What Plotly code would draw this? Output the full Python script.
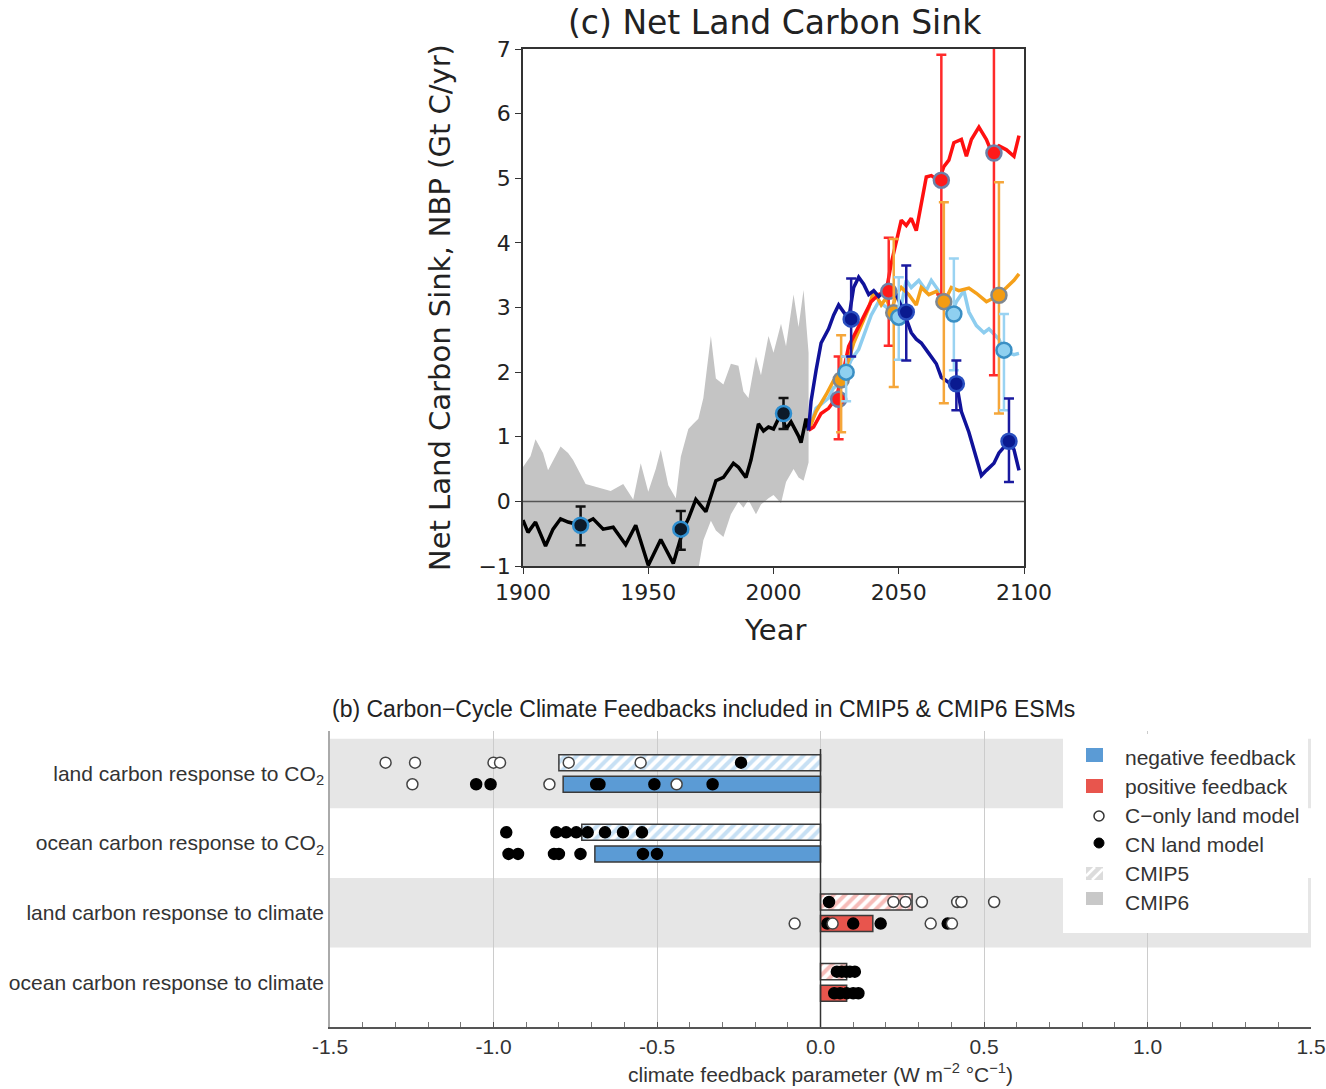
import plotly.graph_objects as go

W, H = 1326, 1089

# ---------------- (c) Net Land Carbon Sink data ----------------
hist_years = [1900, 1902, 1905, 1909, 1912, 1915, 1918, 1923, 1928, 1932, 1936, 1941, 1945, 1950,
              1952, 1955, 1960, 1964, 1966, 1969, 1973, 1977, 1980, 1984, 1986, 1989, 1991, 1994,
              1996, 1998, 2000, 2003, 2005, 2007, 2010, 2011, 2013, 2014]
hist_nbp = [-0.29, -0.48, -0.32, -0.69, -0.43, -0.27, -0.32, -0.37, -0.27, -0.43, -0.40, -0.67, -0.37,
            -0.99, -0.83, -0.59, -0.96, -0.43, -0.27, 0.03, -0.16, 0.32, 0.37, 0.59, 0.53, 0.37, 0.64,
            1.20, 1.09, 1.15, 1.12, 1.36, 1.12, 1.23, 1.01, 0.91, 1.28, 1.10]

band_years = [1900, 1903, 1905, 1908, 1910, 1913, 1915, 1918, 1920, 1925, 1930, 1935, 1940, 1944,
              1947, 1950, 1953, 1955, 1958, 1961, 1963, 1966, 1968, 1970, 1972, 1975, 1977, 1980,
              1983, 1986, 1988, 1990, 1993, 1995, 1998, 2000, 2003, 2005, 2008, 2010, 2012, 2014]
band_upper = [0.53, 0.70, 0.96, 0.75, 0.48, 0.70, 0.85, 0.75, 0.64, 0.27, 0.21, 0.16, 0.27, 0.03,
              0.59, 0.15, 0.50, 0.80, 0.25, 0.05, 0.69, 1.12, 1.20, 1.28, 1.60, 2.56, 1.90, 1.81,
              2.13, 2.10, 1.70, 1.60, 2.24, 1.95, 2.56, 2.30, 2.75, 2.40, 3.20, 2.70, 3.27, 2.30]
band_lower = [-1.5, -1.5, -1.5, -1.5, -1.5, -1.5, -1.5, -1.5, -1.5, -1.5, -1.5, -1.5, -1.5, -1.5,
              -1.5, -1.5, -1.5, -1.5, -1.5, -1.5, -1.5, -1.5, -1.2, -1.05, -0.6, -0.3, -0.45, -0.55,
              -0.2, 0.0, -0.1, 0.02, -0.2, -0.05, 0.05, 0.1, -0.03, 0.3, 0.5, 0.37, 0.32, 0.6]

hist_mk_years = [1923, 1963, 2004]
hist_mk_vals = [-0.37, -0.43, 1.36]
hist_mk_hi = [-0.08, -0.15, 1.60]
hist_mk_lo = [-0.68, -0.75, 1.12]

navy_years = [2014, 2015, 2017, 2019, 2022, 2024, 2026, 2028, 2030, 2032, 2034, 2036, 2038, 2040,
              2042, 2046, 2049, 2052, 2055, 2057, 2059, 2062, 2065, 2067, 2071, 2073, 2075, 2078,
              2080, 2083, 2085, 2088, 2090, 2094, 2096, 2098]
navy_vals = [1.10, 1.55, 2.03, 2.45, 2.67, 2.88, 3.04, 2.93, 2.82, 3.31, 3.47, 3.36, 3.20, 3.26,
             3.17, 3.31, 3.20, 2.93, 2.61, 2.51, 2.45, 2.29, 2.13, 1.92, 1.81, 1.84, 1.39, 1.07,
             0.80, 0.40, 0.48, 0.59, 0.75, 0.93, 0.80, 0.48]

red_years = [2014, 2016, 2019, 2022, 2025, 2028, 2030, 2033, 2036, 2039, 2042, 2045, 2047, 2049,
             2051, 2053, 2055, 2057, 2059, 2061, 2063, 2066, 2068, 2070, 2072, 2075, 2077, 2079,
             2082, 2085, 2087, 2090, 2093, 2096, 2098]
red_vals = [1.10, 1.15, 1.36, 1.44, 1.60, 2.03, 2.40, 2.64, 2.88, 3.09, 3.20, 3.25, 3.68, 4.00,
            4.35, 4.27, 4.38, 4.19, 4.59, 5.02, 5.04, 4.96, 5.18, 5.28, 5.55, 5.60, 5.34, 5.60,
            5.79, 5.60, 5.41, 5.50, 5.44, 5.34, 5.66]

orange_years = [2014, 2017, 2021, 2024, 2027, 2030, 2032, 2035, 2038, 2040, 2043, 2045, 2047, 2049,
                2051, 2054, 2057, 2059, 2062, 2065, 2068, 2071, 2074, 2078, 2081, 2085, 2089, 2093,
                2096, 2098]
orange_vals = [1.10, 1.39, 1.65, 1.87, 1.90, 2.19, 2.45, 2.72, 2.99, 3.26, 3.04, 3.15, 2.93, 3.20,
               3.31, 3.20, 3.04, 3.31, 3.20, 3.25, 3.07, 3.31, 3.26, 3.30, 3.22, 3.09, 3.17, 3.31,
               3.42, 3.52]

lblue_years = [2014, 2017, 2022, 2024, 2027, 2029, 2031, 2034, 2036, 2039, 2042, 2045, 2047, 2050,
               2053, 2055, 2058, 2061, 2063, 2067, 2071, 2073, 2076, 2078, 2081, 2084, 2086, 2090,
               2092, 2096, 2098]
lblue_vals = [1.10, 1.44, 1.60, 1.76, 1.81, 2.00, 2.19, 2.35, 2.56, 2.88, 3.09, 3.00, 2.95, 2.83,
              3.42, 3.31, 3.42, 3.26, 3.42, 3.20, 2.88, 3.09, 3.26, 2.93, 2.72, 2.61, 2.67, 2.51,
              2.32, 2.27, 2.29]

navy_mk_years = [2031, 2053, 2073, 2094]
navy_mk_vals = [2.82, 2.93, 1.82, 0.93]
navy_mk_hi = [3.45, 3.65, 2.18, 1.59]
navy_mk_lo = [2.24, 2.18, 1.41, 0.30]

red_mk_years = [2026, 2046, 2067, 2088]
red_mk_vals = [1.58, 3.25, 4.97, 5.39]
red_mk_hi = [2.24, 4.08, 6.91, 7.5]
red_mk_lo = [0.96, 2.41, 3.20, 1.95]

orange_mk_years = [2027, 2048, 2068, 2090]
orange_mk_vals = [1.88, 2.92, 3.09, 3.19]
orange_mk_hi = [2.57, 4.06, 4.63, 4.94]
orange_mk_lo = [1.07, 1.77, 1.52, 1.36]

lblue_mk_years = [2029, 2050, 2072, 2092]
lblue_mk_vals = [2.00, 2.85, 2.90, 2.34]
lblue_mk_hi = [2.24, 3.47, 3.76, 2.90]
lblue_mk_lo = [1.55, 2.19, 2.03, 1.41]

# ---------------- (b) feedback data ----------------
categories = ["land carbon response to CO<sub>2</sub>",
              "ocean carbon response to CO<sub>2</sub>",
              "land carbon response to climate",
              "ocean carbon response to climate"]
cmip5_mean = [-0.80, -0.73, 0.28, 0.08]
cmip6_mean = [-0.787, -0.69, 0.16, 0.08]
cmip5_conly = [[-1.33, -1.24, -1.00, -0.98, -0.77, -0.55], [], [0.223, 0.26, 0.31, 0.418, 0.431, 0.531], []]
cmip5_cn = [[-0.243], [-0.961, -0.808, -0.778, -0.747, -0.712, -0.659, -0.604, -0.546], [0.026],
            [0.05, 0.065, 0.078, 0.09, 0.105]]
cmip6_conly = [[-1.248, -0.829, -0.44], [], [-0.079, 0.037, 0.337, 0.402], []]
cmip6_cn = [[-1.053, -1.009, -0.686, -0.676, -0.508, -0.33],
            [-0.954, -0.925, -0.815, -0.80, -0.734, -0.543, -0.50],
            [0.021, 0.10, 0.184, 0.389], [0.042, 0.06, 0.08, 0.10, 0.116]]
xticks_b = [-1.5, -1.0, -0.5, 0.0, 0.5, 1.0, 1.5]
xtick_text_b = ["-1.5", "-1.0", "-0.5", "0.0", "0.5", "1.0", "1.5"]
legend_labels = ["negative feedback", "positive feedback", "C−only land model",
                 "CN land model", "CMIP5", "CMIP6"]

NEG, POS = "#5b9bd5", "#e8554d"
NEG_H, POS_H = "#8fc2ea", "#ee7a73"

def px(x):
    return x / W

def py(y):
    return 1 - y / H

fig = go.Figure()

# ---- top panel ----
fig.add_trace(go.Scatter(x=band_years, y=band_lower, mode="lines", line=dict(width=0, color="#c4c4c4"),
                         xaxis="x", yaxis="y", hoverinfo="skip"))
fig.add_trace(go.Scatter(x=band_years, y=band_upper, mode="lines", line=dict(width=0, color="#c4c4c4"),
                         fill="tonexty", fillcolor="#c4c4c4", xaxis="x", yaxis="y", hoverinfo="skip"))
fig.add_trace(go.Scatter(x=[1900, 2100], y=[0, 0], mode="lines", line=dict(width=1.5, color="#555"),
                         xaxis="x", yaxis="y"))
fig.add_trace(go.Scatter(x=hist_years, y=hist_nbp, mode="lines", line=dict(width=3.5, color="black"),
                         xaxis="x", yaxis="y"))

series = [
    (lblue_years, lblue_vals, "#8dcdef"),
    (orange_years, orange_vals, "#f5a01a"),
    (red_years, red_vals, "#ff1010"),
    (navy_years, navy_vals, "#10129a"),
]
for yrs, vals, col in series:
    fig.add_trace(go.Scatter(x=yrs, y=vals, mode="lines", line=dict(width=3.5, color=col),
                             xaxis="x", yaxis="y"))

markers = [
    (hist_mk_years, hist_mk_vals, hist_mk_hi, hist_mk_lo, "#0d1b2a", "#2f8fd0", "#111"),
    (red_mk_years, red_mk_vals, red_mk_hi, red_mk_lo, "#ff1a1a", "#6c80a8", "#ff2a2a"),
    (orange_mk_years, orange_mk_vals, orange_mk_hi, orange_mk_lo, "#f39c12", "#7f8890", "#f5a63a"),
    (lblue_mk_years, lblue_mk_vals, lblue_mk_hi, lblue_mk_lo, "#8fd0f0", "#3a8fc4", "#9ad3f2"),
    (navy_mk_years, navy_mk_vals, navy_mk_hi, navy_mk_lo, "#0a1a90", "#2a4fc0", "#1a1aa0"),
]
for yrs, vals, hi, lo, fill, edge, ecol in markers:
    fig.add_trace(go.Scatter(
        x=yrs, y=vals, mode="markers",
        marker=dict(size=15, color=fill, line=dict(color=edge, width=2.5)),
        error_y=dict(type="data", symmetric=False,
                     array=[h - v for h, v in zip(hi, vals)],
                     arrayminus=[v - l for v, l in zip(vals, lo)],
                     color=ecol, thickness=2.5, width=5),
        xaxis="x", yaxis="y"))

# ---- bottom panel ----
rows = list(range(len(categories)))
y5 = [r - 0.155 for r in rows]
y6 = [r + 0.155 for r in rows]
col6 = [NEG if v < 0 else POS for v in cmip6_mean]
col5h = [NEG_H if v < 0 else POS_H for v in cmip5_mean]

fig.add_trace(go.Bar(x=cmip5_mean, y=y5, orientation="h", width=0.23, base=0,
                     marker=dict(color="white", line=dict(color="#3a3a3a", width=1.5),
                                 pattern=dict(shape="/", fgcolor=col5h, bgcolor="white",
                                              size=8, solidity=0.5, fillmode="overlay")),
                     xaxis="x2", yaxis="y2"))
fig.add_trace(go.Bar(x=cmip6_mean, y=y6, orientation="h", width=0.23, base=0,
                     marker=dict(color=col6, line=dict(color="#3a3a3a", width=1.5)),
                     xaxis="x2", yaxis="y2"))

def flat(groups, ys):
    xs, yy = [], []
    for g, yv in zip(groups, ys):
        xs += g
        yy += [yv] * len(g)
    return xs, yy

for groups, ys, filled in [(cmip5_cn, y5, True), (cmip6_cn, y6, True),
                           (cmip5_conly, y5, False), (cmip6_conly, y6, False)]:
    xs, yy = flat(groups, ys)
    fig.add_trace(go.Scatter(
        x=xs, y=yy, mode="markers",
        marker=dict(size=11, color="black" if filled else "white",
                    line=dict(color="black" if filled else "#444", width=1.5)),
        xaxis="x2", yaxis="y2"))

shapes = []
for r in [0, 2]:
    shapes.append(dict(type="rect", xref="x2 domain", x0=0, x1=1, yref="y2", y0=r - 0.5, y1=r + 0.5,
                       fillcolor="#e6e6e6", line=dict(width=0), layer="below"))
shapes.append(dict(type="line", xref="x2", x0=0, x1=0, yref="y2", y0=-0.35, y1=3.64,
                   line=dict(color="#333", width=1.5), layer="above"))
# legend box
shapes.append(dict(type="rect", xref="paper", yref="paper", x0=px(1063), x1=px(1308),
                   y0=py(933), y1=py(734), fillcolor="white", line=dict(width=0), layer="above"))
shapes.append(dict(type="rect", xref="paper", yref="paper", x0=px(1086), x1=px(1103),
                   y0=py(762), y1=py(748), fillcolor=NEG, line=dict(width=0), layer="above"))
shapes.append(dict(type="rect", xref="paper", yref="paper", x0=px(1086), x1=px(1103),
                   y0=py(793), y1=py(779), fillcolor=POS, line=dict(width=0), layer="above"))
shapes.append(dict(type="circle", xref="paper", yref="paper", x0=px(1094), x1=px(1104),
                   y0=py(821), y1=py(811), fillcolor="white", line=dict(color="#333", width=1.5),
                   layer="above"))
shapes.append(dict(type="circle", xref="paper", yref="paper", x0=px(1094), x1=px(1104),
                   y0=py(848), y1=py(838), fillcolor="black", line=dict(color="black", width=1),
                   layer="above"))
shapes.append(dict(type="rect", xref="paper", yref="paper", x0=px(1086), x1=px(1103),
                   y0=py(880), y1=py(867), fillcolor="#dcdcdc", line=dict(width=0), layer="above"))
for (a, b, c, d) in [(1086, 876, 1095, 867), (1092, 880, 1103, 869)]:
    shapes.append(dict(type="line", xref="paper", yref="paper", x0=px(a), y0=py(b), x1=px(c), y1=py(d),
                       line=dict(color="white", width=2.5), layer="above"))
shapes.append(dict(type="rect", xref="paper", yref="paper", x0=px(1086), x1=px(1103),
                   y0=py(905), y1=py(892), fillcolor="#c8c8c8", line=dict(width=0), layer="above"))

SANS = "Liberation Sans, Arial, sans-serif"
DJ = "DejaVu Sans"

annotations = [
    dict(text="(c) Net Land Carbon Sink", x=px(775), y=py(22), xref="paper", yref="paper",
         showarrow=False, font=dict(family=DJ, size=33, color="#222"), xanchor="center", yanchor="middle"),
    dict(text="Net Land Carbon Sink, NBP (Gt C/yr)", x=px(440), y=py(308), xref="paper", yref="paper",
         showarrow=False, textangle=-90, font=dict(family=DJ, size=29, color="#222"),
         xanchor="center", yanchor="middle"),
    dict(text="Year", x=px(775), y=py(630), xref="paper", yref="paper", showarrow=False,
         font=dict(family=DJ, size=29, color="#222"), xanchor="center", yanchor="middle"),
    dict(text="(b) Carbon−Cycle Climate Feedbacks included in CMIP5 &amp; CMIP6 ESMs", x=px(330), y=py(709),
         xref="paper", yref="paper", showarrow=False, font=dict(family=SANS, size=23, color="#222"),
         xanchor="left", yanchor="middle"),
    dict(text="climate feedback parameter (W m<sup>−2</sup> °C<sup>−1</sup>)", x=px(820), y=py(1073),
         xref="paper", yref="paper", showarrow=False, font=dict(family=SANS, size=21, color="#333"),
         xanchor="center", yanchor="middle"),
]
for i, lab in enumerate(legend_labels):
    annotations.append(dict(text=lab, x=px(1123), y=py(757 + i * 29), xref="paper", yref="paper",
                            showarrow=False, font=dict(family=SANS, size=21, color="#333"),
                            xanchor="left", yanchor="middle"))

fig.update_layout(
    width=W, height=H, margin=dict(l=0, r=0, t=0, b=0, autoexpand=False),
    paper_bgcolor="white", plot_bgcolor="white", showlegend=False, barmode="overlay",
    xaxis=dict(domain=[px(523), px(1024)], range=[1900, 2100], tickvals=[1900, 1950, 2000, 2050, 2100],
               showgrid=False, zeroline=False, showline=True, mirror=True, linecolor="#333", linewidth=1.5,
               ticks="outside", ticklen=6, tickcolor="#333", tickfont=dict(family=DJ, size=22, color="#222"),
               anchor="y", automargin=False),
    yaxis=dict(domain=[py(566), py(49)], range=[-1, 7], showgrid=False, zeroline=False,
               showline=True, mirror=True, linecolor="#333", linewidth=1.5, ticks="outside", ticklen=6,
               tickcolor="#333", tickfont=dict(family=DJ, size=22, color="#222"), anchor="x",
               tickvals=[-1, 0, 1, 2, 3, 4, 5, 6, 7], ticktext=["−1", "0", "1", "2", "3", "4", "5", "6", "7"],
               automargin=False),
    xaxis2=dict(domain=[px(330), px(1311)], range=[-1.5, 1.5], tickvals=xticks_b, ticktext=xtick_text_b,
                showgrid=True, gridcolor="#cccccc", gridwidth=1, zeroline=False, showline=True,
                linecolor="#555", linewidth=1.5, ticks="inside", ticklen=5, tickcolor="#555",
                minor=dict(dtick=0.1, ticks="inside", ticklen=5, tickcolor="#777", showgrid=False),
                tickfont=dict(family=SANS, size=21, color="#333"), anchor="y2", automargin=False),
    yaxis2=dict(domain=[py(1027), py(731)], range=[3.64, -0.61], tickvals=rows, ticktext=categories,
                showgrid=False, zeroline=False, showline=True, linecolor="#aaa", linewidth=1.5,
                ticks="", tickfont=dict(family=SANS, size=21, color="#333"), anchor="x2", automargin=False),
    shapes=shapes, annotations=annotations,
)

fig.write_html("out.html")
